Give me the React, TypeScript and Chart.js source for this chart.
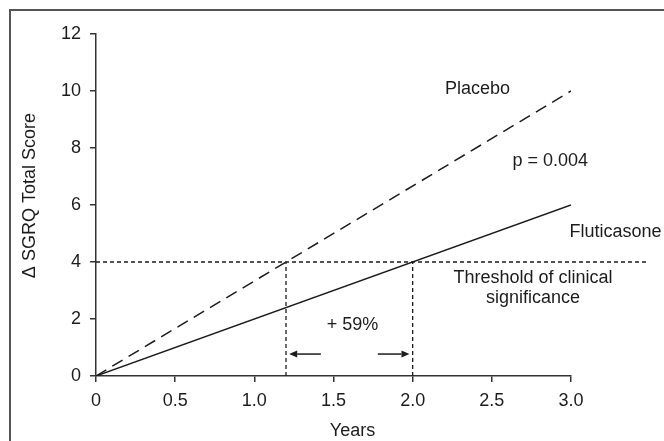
import React, { useEffect, useRef } from "react";
import { Chart, registerables } from "chart.js";
Chart.register(...registerables);

// ---- data ----
const yearRange = [0, 3];
const placebo = [0, 10];
const fluticasone = [0, 6];
const thresholdValue = 4;
const thresholdExtent = [0, 3.49];
const crossingYears = [1.2, 2.0];
const xTickValues = [0, 0.5, 1, 1.5, 2, 2.5, 3];
const xTickLabels = ["0", "0.5", "1.0", "1.5", "2.0", "2.5", "3.0"];
const yTickValues = [0, 2, 4, 6, 8, 10, 12];
const yTickLabels = ["0", "2", "4", "6", "8", "10", "12"];
const seriesNames = ["Placebo", "Fluticasone"];
const pValueText = "p = 0.004";
const thresholdText = ["Threshold of clinical", "significance"];
const gainText = "+ 59%";
const xTitle = "Years";
const yTitle = "\u0394 SGRQ Total Score";

const FONT = '"Liberation Sans", Arial, Helvetica, sans-serif';
const INK = "#1c1c1c";
const SIZE = 18;

const annotations = {
  id: "annotations",
  afterDraw(chart: any) {
    const { ctx, scales } = chart;
    const x = scales.x;
    const y = scales.y;
    const px = (v: number) => x.getPixelForValue(v);
    const py = (v: number) => y.getPixelForValue(v);
    ctx.save();
    ctx.fillStyle = INK;
    ctx.strokeStyle = INK;
    ctx.font = `${SIZE}px ${FONT}`;
    ctx.textBaseline = "alphabetic";
    const text = (s: string, xv: number, yv: number, align: CanvasTextAlign) => {
      ctx.textAlign = align;
      ctx.fillText(s, px(xv), py(yv));
    };
    text(seriesNames[0], 2.41, 9.89, "center");
    text(pValueText, 2.63, 7.37, "left");
    text(seriesNames[1], 2.99, 4.88, "left");
    text(thresholdText[0], 2.76, 3.26, "center");
    text(thresholdText[1], 2.76, 2.56, "center");
    text(gainText, 1.62, 1.61, "center");

    // arrows
    const arrowY = 0.77;
    const arrow = (fromX: number, toX: number) => {
      const x0 = px(fromX);
      const x1 = px(toX);
      const yy = py(arrowY);
      const dir = Math.sign(x1 - x0);
      const head = 8;
      ctx.lineWidth = 1.5;
      ctx.beginPath();
      ctx.moveTo(x0, yy);
      ctx.lineTo(x1 - dir * head, yy);
      ctx.stroke();
      ctx.beginPath();
      ctx.moveTo(x1, yy);
      ctx.lineTo(x1 - dir * head, yy - 3.5);
      ctx.lineTo(x1 - dir * head, yy + 3.5);
      ctx.closePath();
      ctx.fill();
    };
    arrow(crossingYears[0] + 0.22, crossingYears[0] + 0.02);
    arrow(crossingYears[1] - 0.22, crossingYears[1] - 0.02);

    // axis titles
    ctx.textAlign = "center";
    ctx.fillText(xTitle, px(1.62), x.bottom - 5);
    ctx.save();
    ctx.translate(y.left + 30, py(6.33));
    ctx.rotate(-Math.PI / 2);
    ctx.textBaseline = "middle";
    ctx.fillText(yTitle, 0, 0);
    ctx.restore();
    ctx.restore();
  },
};

export default function App() {
  const ref = useRef<HTMLCanvasElement | null>(null);
  useEffect(() => {
    if (!ref.current) return;
    const line = (data: { x: number; y: number }[], dash: number[], extra: any = {}) => ({
      data,
      borderColor: INK,
      borderWidth: 1.5,
      borderDash: dash,
      pointRadius: 0,
      fill: false,
      tension: 0,
      ...extra,
    });
    const chart = new Chart(ref.current, {
      type: "line",
      data: {
        datasets: [
          line(yearRange.map((v, i) => ({ x: v, y: placebo[i] })), [12, 7], { label: seriesNames[0] }),
          line(yearRange.map((v, i) => ({ x: v, y: fluticasone[i] })), [], { label: seriesNames[1] }),
          line(thresholdExtent.map((v) => ({ x: v, y: thresholdValue })), [4, 3], { label: "threshold", clip: false, borderWidth: 1.3 }),
          ...crossingYears.map((c) =>
            line([{ x: c, y: 0 }, { x: c, y: thresholdValue }], [4, 3], { label: "crossing", borderWidth: 1.3 })
          ),
        ],
      },
      options: {
        animation: false,
        responsive: false,
        maintainAspectRatio: false,
        layout: { padding: { left: 0, top: 34, right: 93, bottom: 0 } },
        plugins: { legend: { display: false }, tooltip: { enabled: false } },
        scales: {
          x: {
            type: "linear",
            min: 0,
            max: 3,
            afterBuildTicks: (s: any) => {
              s.ticks = xTickValues.map((v) => ({ value: v }));
            },
            afterFit: (s: any) => {
              s.height = 65;
            },
            ticks: {
              color: INK,
              font: { family: FONT, size: SIZE },
              padding: 8,
              maxRotation: 0,
              autoSkip: false,
              callback: (_v: any, i: number) => xTickLabels[i],
            },
            grid: { drawOnChartArea: false, drawTicks: true, tickLength: 6, color: "#333", lineWidth: 1.5 },
            border: { display: true, color: "#333", width: 1.5 },
          },
          y: {
            type: "linear",
            min: 0,
            max: 12,
            afterBuildTicks: (s: any) => {
              s.ticks = yTickValues.map((v) => ({ value: v }));
            },
            afterFit: (s: any) => {
              s.width = 96;
            },
            ticks: {
              color: INK,
              font: { family: FONT, size: SIZE },
              padding: 9,
              autoSkip: false,
              callback: (_v: any, i: number) => yTickLabels[i],
            },
            grid: { drawOnChartArea: false, drawTicks: true, tickLength: 6, color: "#333", lineWidth: 1.5 },
            border: { display: true, color: "#333", width: 1.5 },
          },
        },
      },
      plugins: [annotations],
    } as any);
    return () => chart.destroy();
  }, []);
  return (
    <div style={{ position: "fixed", left: 0, top: 0, width: 664, height: 441, background: "#fff" }}>
      <div
        style={{
          position: "absolute",
          left: 9,
          top: 9,
          right: -4,
          bottom: -4,
          borderTop: "2px solid #555",
          borderLeft: "2px solid #555",
        }}
      />
      <canvas ref={ref} width={664} height={441} style={{ position: "absolute", left: 0, top: 0, width: 664, height: 441 }} />
    </div>
  );
}
